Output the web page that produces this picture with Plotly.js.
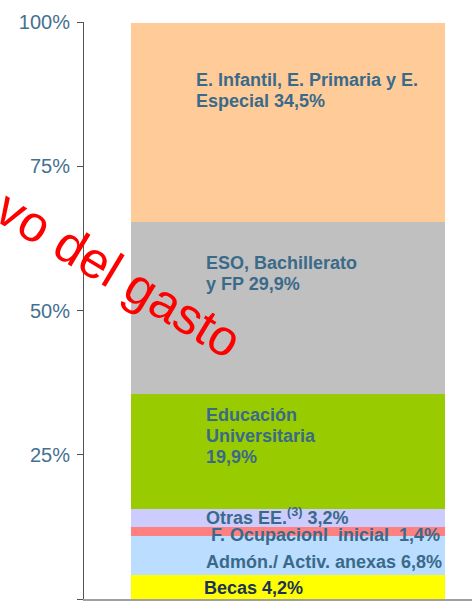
<!DOCTYPE html>
<html>
<head>
<meta charset="utf-8">
<script src="https://cdn.plot.ly/plotly-3.0.1.min.js"></script>
<style>html,body{margin:0;padding:0;background:#fff;}#chart{width:472px;height:605px;}</style>
</head>
<body>
<div id="chart"></div>
<script>
// Data (bottom to top of the stacked bar)
const categories = ["Becas", "Admón./ Activ. anexas", "F. Ocupacional inicial", "Otras EE.", "Educación Universitaria", "ESO, Bachillerato y FP", "E. Infantil, E. Primaria y E. Especial"];
const values = [4.2, 6.8, 1.4, 3.2, 19.9, 29.9, 34.5];
const labels = [
  "Becas 4,2%",
  "Admón./ Activ. anexas 6,8%",
  "F. Ocupacionl\u00a0\u00a0inicial\u00a0\u00a01,4%",
  "Otras EE.<sup>(3)</sup> 3,2%",
  "Educación<br>Universitaria<br>19,9%",
  "ESO, Bachillerato<br>y FP 29,9%",
  "E. Infantil, E. Primaria y E.<br>Especial 34,5%"
];
const yTicks = [0, 25, 50, 75, 100];
const overlayText = "vo del gasto";

// Styles
const colors = ["#FFFF00", "#BBDDFF", "#FF8080", "#CCCCFF", "#99CC00", "#C0C0C0", "#FFCC99"];
const labelColors = ["#1C3358", "#3A6A8A", "#3A6A8A", "#3A6A8A", "#3A6A8A", "#3A6A8A", "#3A6A8A"];
const labelX = [-0.213, -0.209, -0.196, -0.209, -0.209, -0.209, -0.235];
const labelY = [1.9, 6.4, 11.1, 14.3, 28.2, 56.4, 88.1];
const lineGap = 21;

const traces = values.map((v, i) => ({
  type: "bar",
  x: [0],
  y: [v],
  width: 0.809,
  name: categories[i],
  marker: {color: colors[i], line: {width: 0}},
  hoverinfo: "none"
}));

const annotations = [];
labels.forEach((t, i) => {
  const lines = t.split("<br>");
  const n = lines.length;
  lines.forEach((ln, j) => {
    annotations.push({
      x: labelX[i], y: labelY[i], xref: "x", yref: "y",
      yshift: ((n - 1) / 2 - j) * lineGap, xshift: -3,
      text: ln, showarrow: false, xanchor: "left", yanchor: "middle", align: "left",
      font: {family: "Liberation Sans, Arial, sans-serif", size: 18, color: labelColors[i], weight: "bold"}
    });
  });
});
annotations.push({
  x: 0.09, y: 0.562, xref: "paper", yref: "paper",
  text: overlayText, showarrow: false, textangle: 31,
  xanchor: "center", yanchor: "middle",
  font: {family: "Liberation Sans, Arial, sans-serif", size: 51, color: "#FF0000"}
});

const layout = {
  width: 472, height: 605,
  margin: {l: 84, r: 0, t: 22, b: 6},
  paper_bgcolor: "#ffffff", plot_bgcolor: "#ffffff",
  barmode: "stack",
  showlegend: false,
  xaxis: {
    type: "linear", range: [-0.526, 0.474],
    showticklabels: false, ticks: "", showgrid: false, zeroline: false,
    showline: true, linecolor: "#A0A0A0", linewidth: 2
  },
  yaxis: {
    range: [0, 100], tickvals: yTicks, ticktext: yTicks.map(v => v + "%"),
    ticks: "outside", ticklen: 6, tickcolor: "#555555", tickwidth: 1,
    showgrid: false, zeroline: false,
    showline: true, linecolor: "#555555", linewidth: 1,
    tickfont: {family: "Liberation Sans, Arial, sans-serif", size: 20, color: "#46708F"},
    ticklabelstandoff: 3
  },
  annotations: annotations
};

Plotly.newPlot("chart", traces, layout, {displayModeBar: false, staticPlot: true});
</script>
</body>
</html>
